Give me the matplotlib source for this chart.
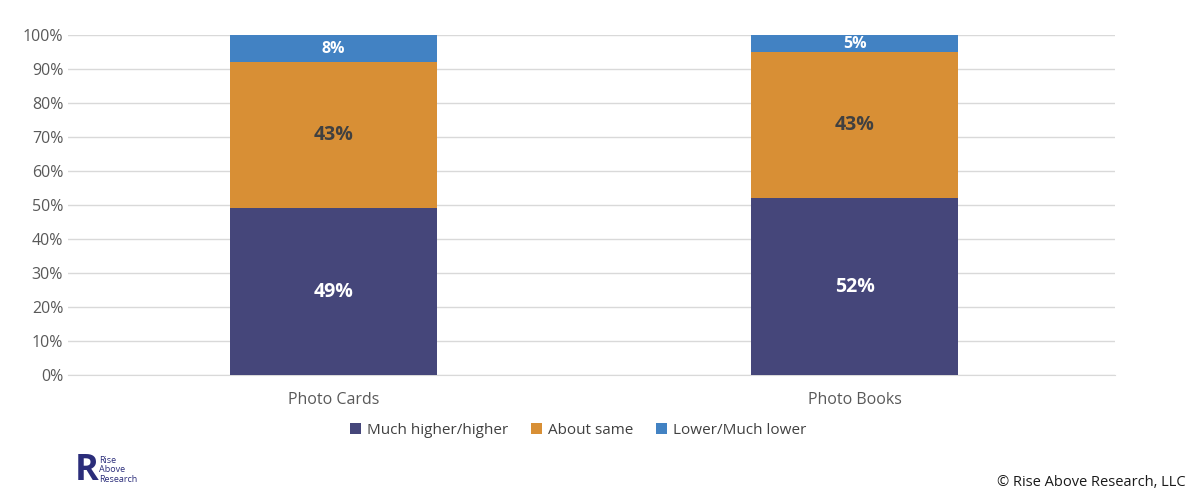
import numpy as np
import matplotlib.pyplot as plt
from matplotlib.ticker import PercentFormatter

plt.rcParams['font.family'] = ['Open Sans', 'DejaVu Sans']

categories = ['Photo Cards', 'Photo Books']
series_names = ['Much higher/higher', 'About same', 'Lower/Much lower']
much_higher = [49, 52]
about_same = [43, 43]
lower = [8, 5]

colors = ['#45467A', '#D88F35', '#4282C3']
label_colors = ['white', '#404040', 'white']

fig = plt.figure(figsize=(12, 5), dpi=100)
ax = fig.add_axes([0.0567, 0.25, 0.8725, 0.68])

x = np.arange(len(categories))
bottom = np.zeros(len(categories))
for vals, name, c, lc in zip([much_higher, about_same, lower], series_names, colors, label_colors):
    ax.bar(x, vals, 0.397, bottom=bottom, color=c, label=name, zorder=3)
    for xi, b, v in zip(x, bottom, vals):
        ax.text(xi, b + v / 2, f'{v}%', ha='center', va='center', color=lc,
                fontsize=14 if v > 10 else 11.5, fontweight='bold', zorder=4)
    bottom += np.array(vals)

ax.set_xlim(-0.51, 1.5)
ax.set_ylim(0, 100)
ax.set_yticks(np.arange(0, 101, 10))
ax.yaxis.set_major_formatter(PercentFormatter(decimals=0))
ax.set_xticks(x)
ax.set_xticklabels(categories)
ax.tick_params(axis='both', length=0, labelsize=11.5, colors='#595959')
ax.tick_params(axis='x', pad=12)
ax.grid(axis='y', color='#D9D9D9', linewidth=1, zorder=0)
for s in ['top', 'right', 'left']:
    ax.spines[s].set_visible(False)
ax.spines['bottom'].set_color('#D9D9D9')

leg = fig.legend(loc='center', bbox_to_anchor=(0.482, 0.139), ncol=3, frameon=False,
                 fontsize=11, handlelength=0.7, handleheight=0.7, handletextpad=0.4,
                 columnspacing=1.5)
for t in leg.get_texts():
    t.set_color('#404040')

# logo
fig.text(0.0625, 0.057, 'R', fontsize=26, fontweight='bold', color='#2B2D7A', ha='left', va='center')
fig.text(0.0825, 0.06, 'Rise\nAbove\nResearch', fontsize=6.5, color='#2B2D7A',
         ha='left', va='center', linespacing=1.1)

fig.text(0.988, 0.035, '© Rise Above Research, LLC', fontsize=10.5, color='#1a1a1a',
         ha='right', va='center')

fig.savefig('out.png', dpi=100)
